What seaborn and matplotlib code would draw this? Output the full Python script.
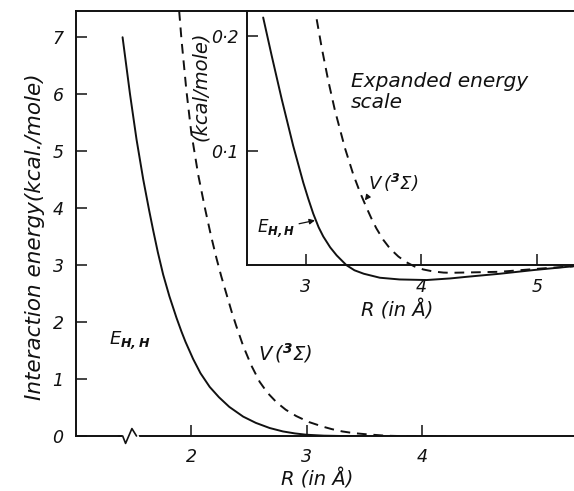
import matplotlib
matplotlib.use("Agg")
import matplotlib.pyplot as plt
import seaborn as sns

# main panel (R in Angstrom, energy in kcal/mole)
r_eh_main = [1.404, 1.468, 1.525, 1.583, 1.635, 1.67, 1.71, 1.756, 1.81, 1.872, 1.915,
             1.95, 2.016, 2.08, 2.16, 2.24, 2.33, 2.45, 2.56, 2.68, 2.795, 2.90,
             3.0, 3.15, 3.3, 3.6, 4.0, 4.2]
e_eh_main = [6.99, 6.0, 5.2, 4.5, 3.95, 3.6, 3.22, 2.83, 2.45, 2.07, 1.83,
             1.65, 1.35, 1.10, 0.86, 0.68, 0.51, 0.34, 0.23, 0.14, 0.08, 0.045,
             0.022, 0.006, 0.0, -0.01, -0.012, -0.012]
r_v_main = [1.895, 1.915, 1.958, 2.0, 2.06, 2.12, 2.17, 2.218, 2.26, 2.305, 2.35,
            2.39, 2.45, 2.52, 2.593, 2.66, 2.74, 2.82, 2.91, 3.02, 3.14, 3.22,
            3.31, 3.41, 3.52, 3.69, 3.9, 4.21]
e_v_main = [7.45, 6.95, 6.05, 5.32, 4.58, 3.98, 3.52, 3.12, 2.80, 2.49, 2.18,
            1.93, 1.58, 1.24, 0.95, 0.76, 0.59, 0.46, 0.35, 0.245, 0.165, 0.12,
            0.08, 0.05, 0.03, 0.005, -0.005, -0.01]

# inset, expanded energy scale
r_eh_ins = [2.63, 2.703, 2.79, 2.89, 2.977, 3.02, 3.063, 3.11, 3.15, 3.21, 3.266,
            3.35, 3.42, 3.50, 3.64, 3.81, 4.045, 4.25, 4.39, 4.68, 4.97, 5.26, 5.32]
e_eh_ins = [0.216, 0.183, 0.145, 0.104, 0.072, 0.058, 0.045, 0.033, 0.025, 0.0155, 0.0085,
            0.0, -0.0045, -0.0075, -0.011, -0.0125, -0.013, -0.0116, -0.0102, -0.0075, -0.0043, -0.0015, -0.001]
r_v_ins = [3.093, 3.136, 3.193, 3.251, 3.338, 3.41, 3.47, 3.525, 3.57, 3.61, 3.67,
           3.727, 3.80, 3.87, 3.94, 4.016, 4.10, 4.19, 4.25, 4.45, 4.68, 5.03, 5.31]
e_v_ins = [0.2145, 0.19, 0.161, 0.135, 0.102, 0.079, 0.063, 0.050, 0.040, 0.032, 0.022,
           0.0145, 0.0075, 0.0025, -0.0012, -0.0038, -0.0055, -0.0065, -0.0067, -0.0063, -0.0058, -0.003, -0.001]

main_yticks = [0, 1, 2, 3, 4, 5, 6, 7]
main_xticks = [2, 3, 4]
ins_yticks = [0.1, 0.2]
ins_ylabels = ["0\u00b71", "0\u00b72"]
ins_xticks = [3, 4, 5]
x_break = 1.44

sns.set_theme(style="white")
plt.rcParams["font.family"] = ["DejaVu Sans"]
plt.rcParams["font.style"] = "italic"
plt.rcParams["mathtext.fontset"] = "dejavusans"

W, H = 574, 491
fig = plt.figure(figsize=(W / 100, H / 100), dpi=100)


def box(l, t, r, b):
    return [l / W, 1 - b / H, (r - l) / W, (b - t) / H]


ink = "#111111"
lw = 1.4
dash = (5, 3.5)

# ---- main axes
ax = fig.add_axes(box(76, 11, 574, 436))
sns.lineplot(x=r_eh_main, y=e_eh_main, ax=ax, color=ink, lw=lw, sort=False, estimator=None)
sns.lineplot(x=r_v_main, y=e_v_main, ax=ax, color=ink, lw=lw, sort=False, estimator=None,
             dashes=False, linestyle=(0, dash))
ax.set_xlim(1.0, 5.32)
ax.set_ylim(0, 7.45)
ax.set_yticks(main_yticks)
ax.set_yticklabels([str(v) for v in main_yticks])
ax.set_xticks(main_xticks)
ax.set_xticklabels([str(v) for v in main_xticks])
ax.tick_params(axis="both", direction="in", length=8, width=1.1, color=ink,
               labelsize=12.5, labelcolor=ink)
ax.tick_params(axis="y", left=True, pad=9)
ax.tick_params(axis="x", bottom=True, pad=9)
ax.spines["right"].set_visible(False)
for s in ["left", "bottom", "top"]:
    ax.spines[s].set_color(ink)
    ax.spines[s].set_linewidth(1.4)
ax.spines["bottom"].set_zorder(0.5)

# axis break mark
ax.plot([x_break - 0.07, x_break - 0.035, x_break - 0.01, x_break + 0.045, x_break + 0.085],
        [0, 0, -0.13, 0.13, 0], color=ink, lw=1.2, clip_on=False, zorder=5)
ax.plot([x_break - 0.035, x_break + 0.085], [0, 0], color="white", lw=2.5, clip_on=False, zorder=4)

ax.text(1.29, 1.68, r"$E_{\mathbf{H,H}}$", fontsize=13, color=ink, va="center")
ax.text(2.58, 1.45, r"$V\,(^{\mathbf{3}}\Sigma)$", fontsize=14, color=ink, va="center")

fig.text(35 / W, 1 - 237 / H, "Interaction energy(kcal./mole)", rotation=90,
         ha="center", va="center", fontsize=15.5, color=ink)
fig.text(317 / W, 1 - 479 / H, "R (in \u00c5)", ha="center", va="center",
         fontsize=14, color=ink)

# ---- inset
ins = fig.add_axes(box(247, 11, 574, 290))
ins.set_facecolor("white")
sns.lineplot(x=r_eh_ins, y=e_eh_ins, ax=ins, color=ink, lw=lw, sort=False, estimator=None)
sns.lineplot(x=r_v_ins, y=e_v_ins, ax=ins, color=ink, lw=lw, sort=False, estimator=None,
             dashes=False, linestyle=(0, dash))
ins.set_xlim(2.49, 5.32)
ins.set_ylim(-0.0217, 0.2217)
ins.set_yticks(ins_yticks)
ins.set_yticklabels(ins_ylabels)
ins.set_xticks(ins_xticks)
ins.set_xticklabels([str(v) for v in ins_xticks])
ins.tick_params(axis="both", direction="in", length=8, width=1.1, color=ink,
                labelsize=12.5, labelcolor=ink)
ins.tick_params(axis="y", left=True, pad=6)
ins.tick_params(axis="x", bottom=True, pad=9)
ins.spines["right"].set_visible(False)
ins.spines["bottom"].set_position(("data", 0))
ins.spines["left"].set_bounds(0, 0.2217)
for s in ["left", "bottom", "top"]:
    ins.spines[s].set_color(ink)
    ins.spines[s].set_linewidth(1.4)

ins.text(3.39, 0.151, "Expanded energy\nscale", fontsize=14.5, color=ink,
         va="center", ha="left", linespacing=1.1)
ins.annotate(r"$E_{\mathbf{H,H}}$", xy=(3.078, 0.039), xytext=(2.58, 0.032),
             fontsize=12, color=ink, va="center",
             arrowprops=dict(arrowstyle="-|>", color=ink, lw=0.9, mutation_scale=8,
                             shrinkA=0, shrinkB=0))
ins.annotate(r"$V\,(^{\mathbf{3}}\Sigma)$", xy=(3.51, 0.0565), xytext=(3.54, 0.072),
             fontsize=13, color=ink, va="center",
             arrowprops=dict(arrowstyle="-|>", color=ink, lw=0.9, mutation_scale=8,
                             shrinkA=0, shrinkB=0, relpos=(0.1, 0.2)))

fig.text(200 / W, 1 - 86 / H, "(kcal/mole)", rotation=90, ha="center", va="center",
         fontsize=14, color=ink)
fig.text(397 / W, 1 - 310 / H, "R (in \u00c5)", ha="center", va="center",
         fontsize=14, color=ink)

fig.savefig("out.png", dpi=100)
